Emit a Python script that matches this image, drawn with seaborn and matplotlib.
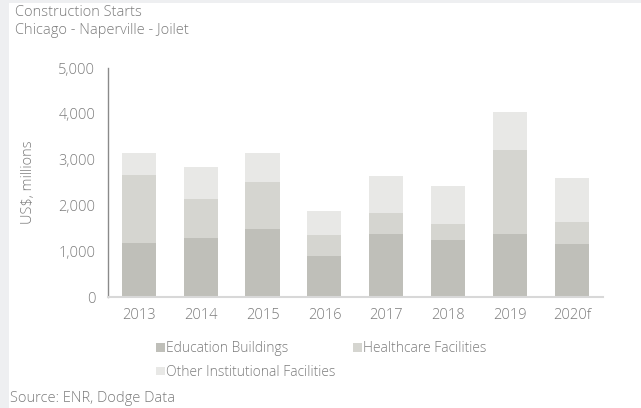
import matplotlib
matplotlib.use("Agg")
import matplotlib.pyplot as plt
from matplotlib.patches import Rectangle, Patch
import seaborn as sns
import pandas as pd
import numpy as np

years = ["2013", "2014", "2015", "2016", "2017", "2018", "2019", "2020f"]
education = [1190, 1300, 1490, 900, 1370, 1250, 1370, 1150]
healthcare = [1480, 845, 1025, 465, 475, 350, 1850, 490]
other = [480, 690, 635, 520, 800, 815, 815, 970]

c_edu = "#bfbfb9"
c_health = "#d5d5d0"
c_other = "#e8e8e6"
txt = "#7c7c7c"

sns.set_theme(style="white")
plt.rcParams["font.family"] = ["Open Sans", "DejaVu Sans"]
plt.rcParams["font.weight"] = "light"
plt.rcParams["axes.labelweight"] = "light"

df = pd.DataFrame({"year": years, "edu": education, "health": healthcare, "other": other})
df["lvl2"] = df["edu"] + df["health"]
df["lvl3"] = df["lvl2"] + df["other"]

fig = plt.figure(figsize=(6.41, 4.08), dpi=100)
fig.patch.set_facecolor("#eeeff1")
fig.patches.append(Rectangle((9 / 641, 0), 1, 1 - 3 / 408, transform=fig.transFigure,
                             facecolor="white", edgecolor="none", zorder=-5))

ax = fig.add_axes([0.168, 0.272, 0.773, 0.561])
ax.set_facecolor("none")

# stacked bars: draw cumulative totals back to front
for col, color in [("lvl3", c_other), ("lvl2", c_health), ("edu", c_edu)]:
    sns.barplot(data=df, x="year", y=col, color=color, width=0.55, saturation=1,
                linewidth=0, ax=ax)

ax.set_ylim(0, 5000)
ax.set_xlim(-0.5, 7.5)
ax.set_yticks(range(0, 5001, 1000))
ax.set_yticklabels([f"{v:,}" for v in range(0, 5001, 1000)])
ax.set_xlabel("")
ax.set_ylabel("US$, millions", color=txt, fontsize=10.5, labelpad=16)
ax.tick_params(axis="both", colors=txt, labelsize=10.5, length=0, pad=9)
ax.tick_params(axis="x", pad=8)
for s in ["top", "right"]:
    ax.spines[s].set_visible(False)
ax.spines["left"].set_color("#8a8a8a")
ax.spines["left"].set_linewidth(1.0)
ax.spines["bottom"].set_color("#d8d8d8")
ax.spines["bottom"].set_linewidth(1.5)

# legend is filled column by column: first column holds items 1 and 3
handles = [Patch(facecolor=c_edu, edgecolor="none"),
           Patch(facecolor=c_other, edgecolor="none"),
           Patch(facecolor=c_health, edgecolor="none")]
labels = ["Education Buildings", "Other Institutional Facilities", "Healthcare Facilities"]
fig.legend(handles, labels, ncol=2, loc="upper left", bbox_to_anchor=(0.235, 0.177),
           frameon=False, fontsize=10, labelcolor=txt, handlelength=0.6, handleheight=0.6,
           handletextpad=0.1, columnspacing=1.3, labelspacing=0.62, borderaxespad=0)

fig.text(15 / 641, 1 - 13 / 408, "Construction Starts", color=txt, fontsize=10.5, va="center")
fig.text(15 / 641, 1 - 30 / 408, "Chicago - Naperville - Joilet", color=txt, fontsize=10.5, va="center")
fig.text(10 / 641, 1 - 398 / 408, "Source: ENR, Dodge Data", color=txt, fontsize=10.5, va="center")

fig.savefig("out.png", dpi=100, facecolor=fig.get_facecolor())
